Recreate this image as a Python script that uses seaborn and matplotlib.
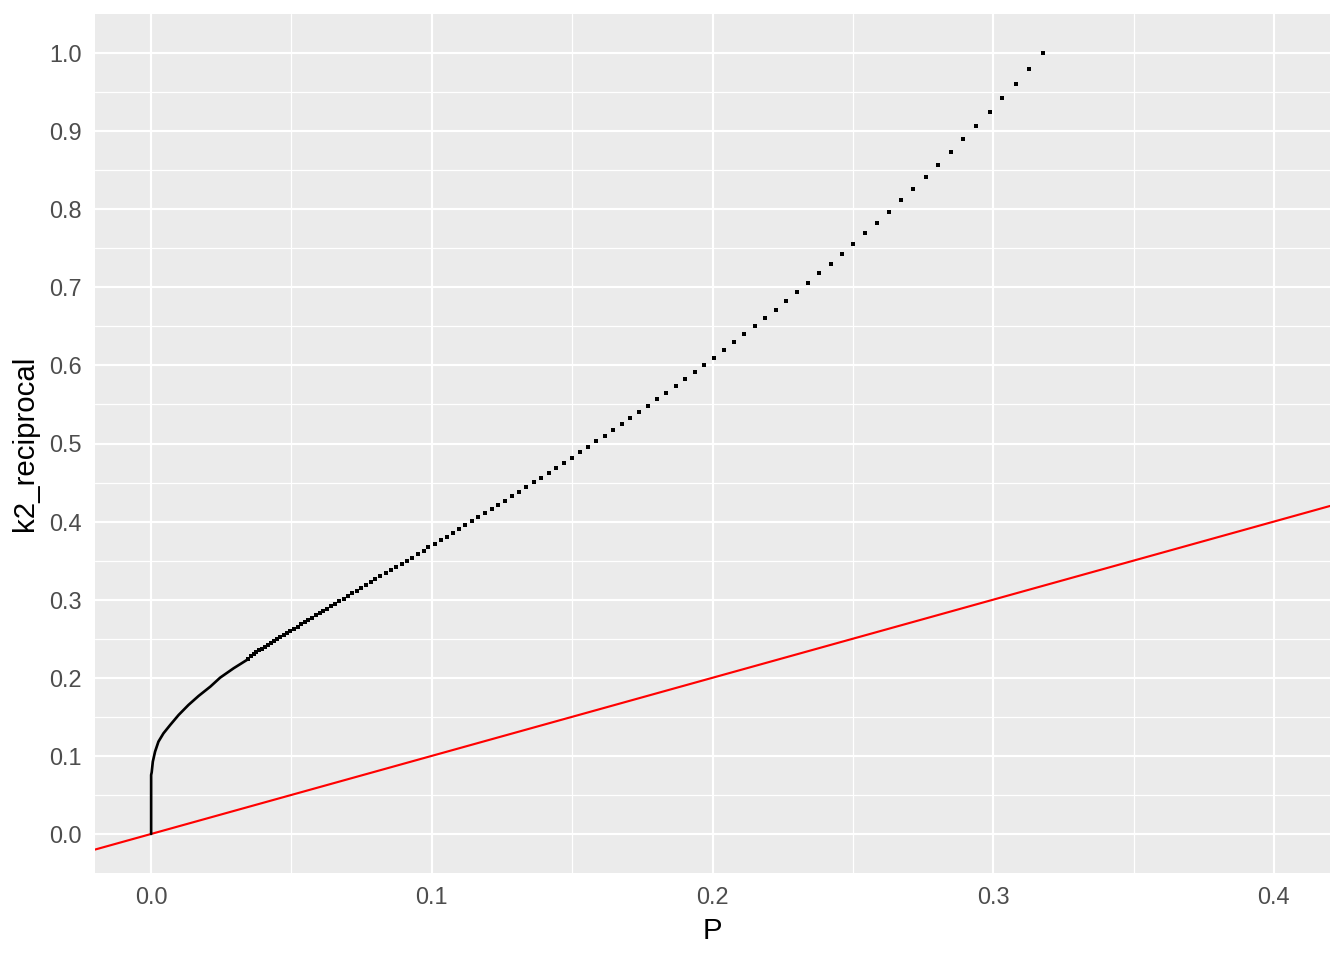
import numpy as np
import pandas as pd
import matplotlib
matplotlib.use("Agg")
import matplotlib.pyplot as plt
import seaborn as sns

# Sparse points (top to bottom)
p_dots = [0.3176, 0.3126, 0.3080, 0.3033, 0.2987, 0.2940, 0.2894, 0.2848, 0.2805, 0.2759,
          0.2716, 0.2673, 0.2630, 0.2587, 0.2544, 0.2501, 0.2462, 0.2423,
          0.2380, 0.2341, 0.2302, 0.2262, 0.2227, 0.2188, 0.2152, 0.2113, 0.2077, 0.2042,
          0.2006, 0.1970, 0.1938, 0.1902, 0.1870, 0.1834, 0.1802, 0.1770, 0.1738, 0.1706,
          0.1677, 0.1645, 0.1617, 0.1584, 0.1556,
          0.1527, 0.1499, 0.1470, 0.1442, 0.1417, 0.1388, 0.1363, 0.1335, 0.1310, 0.1285,
          0.1260, 0.1235, 0.1213, 0.1188, 0.1163, 0.1142, 0.1117, 0.1096, 0.1074, 0.1053,
          0.1031, 0.1010, 0.0988, 0.0971, 0.0949, 0.0928, 0.0910, 0.0892, 0.0871, 0.0853,
          0.0835, 0.0817,
          0.0799, 0.0783, 0.0766, 0.0749, 0.0734, 0.0717, 0.0703, 0.0688, 0.0671, 0.0655,
          0.0641, 0.0627, 0.0613, 0.0600, 0.0586, 0.0573, 0.0559, 0.0547, 0.0535,
          0.0523, 0.0509, 0.0496, 0.0484, 0.0472, 0.0460, 0.0449, 0.0437, 0.0426, 0.0415,
          0.0404, 0.0394, 0.0384, 0.0375, 0.0365, 0.0356, 0.0346]
k2_dots = [1.0000, 0.9795, 0.9607, 0.9428, 0.9248, 0.9069, 0.8903, 0.8736, 0.8570, 0.8416,
           0.8263, 0.8122, 0.7968, 0.7827, 0.7699, 0.7558, 0.7430, 0.7302,
           0.7183, 0.7055, 0.6940, 0.6825, 0.6709, 0.6607, 0.6505, 0.6402, 0.6300, 0.6197,
           0.6095, 0.6005, 0.5915, 0.5826, 0.5736, 0.5646, 0.5570, 0.5480, 0.5403, 0.5326,
           0.5250, 0.5173, 0.5096, 0.5032, 0.4955,
           0.4891, 0.4814, 0.4750, 0.4686, 0.4622, 0.4558, 0.4507, 0.4443, 0.4379, 0.4328,
           0.4264, 0.4213, 0.4161, 0.4110, 0.4059, 0.4008, 0.3956, 0.3905, 0.3854, 0.3803,
           0.3764, 0.3713, 0.3675, 0.3624, 0.3585, 0.3534, 0.3495, 0.3457, 0.3418, 0.3380,
           0.3342, 0.3303,
           0.3269, 0.3231, 0.3192, 0.3154, 0.3115, 0.3081, 0.3047, 0.3013, 0.2983, 0.2949,
           0.2919, 0.2885, 0.2855, 0.2834, 0.2800, 0.2770, 0.2744, 0.2718, 0.2690,
           0.2655, 0.2625, 0.2599, 0.2577, 0.2552, 0.2526, 0.2500, 0.2475, 0.2449, 0.2423,
           0.2398, 0.2372, 0.2351, 0.2326, 0.2300, 0.2274, 0.2244]

# Dense part near the origin, where the points merge into a solid curve
p_dense = [0.0346, 0.0341, 0.0294, 0.0246, 0.0211, 0.0169, 0.0133, 0.0098, 0.0068,
           0.0044, 0.0026, 0.0014, 0.0006, 0.0002, 0.0, 0.0]
k2_dense = [0.2244, 0.2228, 0.2122, 0.2002, 0.1887, 0.1767, 0.1652, 0.1524, 0.1396,
            0.1289, 0.1182, 0.1054, 0.0926, 0.0790, 0.0755, 0.0]

# Reference line
line_intercept = 0.0
line_slope = 1.0

x_ticks = [0.0, 0.1, 0.2, 0.3, 0.4]
y_ticks = [0.0, 0.1, 0.2, 0.3, 0.4, 0.5, 0.6, 0.7, 0.8, 0.9, 1.0]

dots_df = pd.DataFrame({"P": p_dots, "k2_reciprocal": k2_dots})
dense_df = pd.DataFrame({"P": p_dense, "k2_reciprocal": k2_dense})

sns.set_style("darkgrid", {"axes.facecolor": "#EBEBEB", "grid.color": "white"})
plt.rcParams["font.family"] = ["Liberation Sans", "DejaVu Sans"]

fig = plt.figure(figsize=(7, 5), dpi=192)
ax = fig.add_axes([95 / 1344, 1 - 873 / 960, (1330 - 95) / 1344, (873 - 14) / 960])

ax.axline((0, line_intercept), slope=line_slope, color="red", lw=0.8, zorder=2)
sns.lineplot(data=dense_df, x="P", y="k2_reciprocal", sort=False, estimator=None,
             color="black", lw=1.0, ax=ax, zorder=3)
sns.scatterplot(data=dots_df, x="P", y="k2_reciprocal", marker="s", s=1.3,
                color="black", linewidth=0, ax=ax, zorder=3)

ax.set_xlim(-0.02, 0.42)
ax.set_ylim(-0.05, 1.05)
ax.set_xticks(x_ticks)
ax.set_yticks(y_ticks)
ax.set_xticklabels([f"{v:.1f}" for v in x_ticks])
ax.set_yticklabels([f"{v:.1f}" for v in y_ticks])
ax.set_xticks(np.arange(0.05, 0.42, 0.1), minor=True)
ax.set_yticks(np.arange(-0.05, 1.05, 0.1)[1:], minor=True)

ax.grid(which="major", color="white", lw=0.8)
ax.grid(which="minor", color="white", lw=0.45)
for s in ax.spines.values():
    s.set_visible(False)

ax.tick_params(axis="both", which="major", length=2.7, width=0.8, color="#333333",
               labelsize=8.8, labelcolor="#4D4D4D", pad=2.2)
ax.tick_params(axis="both", which="minor", length=0)
ax.set_xlabel("P", fontsize=11, color="black", labelpad=3)
ax.set_ylabel("k2_reciprocal", fontsize=11, color="black", labelpad=4)

fig.savefig("out.png", dpi=192)
